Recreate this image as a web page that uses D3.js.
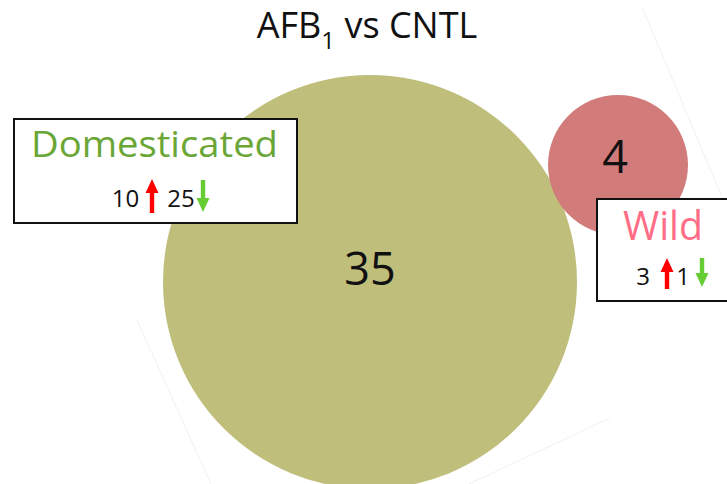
<!DOCTYPE html>
<html>
<head>
<script src="https://cdnjs.cloudflare.com/ajax/libs/d3/7.8.5/d3.min.js"></script>
<meta charset="utf-8">
<title>AFB1 vs CNTL</title>
</head>
<style>
body { margin: 0; background: #fff; }
text { font-family: "Open Sans", "Liberation Sans", sans-serif; }
</style>
<body>
<script>

var groups = ["Domesticated", "Wild"];
var counts = [35, 4];
var upCounts = [10, 3];
var downCounts = [25, 1];

var width = 727, height = 484;

// layout for each group: circle centre, label box, row of arrows
var layout = [
  { cx: 370, cy: 282, color: "#bfbe7b", numSize: 45, numX: 370, numY: 285,
    box: { x: 14, y: 119, w: 283, h: 104 }, labelColor: "#6aa636", labelSize: 36, labelX: 31, labelLen: 247, labelY: 157,
    row: { y: 207, size: 24, num1: 125.5, up: [152, 179, 213], num2: 181, down: [203, 180, 212] } },
  { cx: 618, cy: 165, color: "#d27b7b", numSize: 45, numX: 615, numY: 173,
    box: { x: 597, y: 199, w: 140, h: 102 }, labelColor: "#ff6e86", labelSize: 40, labelX: 623, labelLen: 80, labelY: 240,
    row: { y: 285, size: 24, num1: 643, up: [667, 258, 289], num2: 683, down: [702, 258, 287] } }
];

var r = d3.scaleSqrt().domain([0, d3.max(counts)]).range([0, 207]);

var svg = d3.select("body").append("svg")
  .attr("width", width)
  .attr("height", height);

// faint edges of the tilted slide behind the diagram
var edges = [[642, 7, 727, 209], [610, 418, 469, 484], [137, 320, 211, 484]];
svg.selectAll("line.edge").data(edges).enter().append("line")
  .attr("class", "edge")
  .attr("x1", function(d) { return d[0]; })
  .attr("y1", function(d) { return d[1]; })
  .attr("x2", function(d) { return d[2]; })
  .attr("y2", function(d) { return d[3]; })
  .attr("stroke", "#f1f1f1")
  .attr("stroke-width", 1);

var title = svg.append("text")
  .attr("x", 367)
  .attr("y", 38)
  .attr("text-anchor", "middle")
  .attr("font-size", 36)
  .attr("fill", "#111");
title.append("tspan").text("AFB");
title.append("tspan").attr("font-size", 24).attr("dy", 11).text("1");
title.append("tspan").attr("dy", -11).text(" vs CNTL");

var data = groups.map(function(g, i) {
  return { name: g, n: counts[i], up: upCounts[i], down: downCounts[i], L: layout[i] };
});

svg.selectAll("circle.set").data(data).enter().append("circle")
  .attr("class", "set")
  .attr("cx", function(d) { return d.L.cx; })
  .attr("cy", function(d) { return d.L.cy; })
  .attr("r", function(d) { return r(d.n); })
  .attr("fill", function(d) { return d.L.color; });

svg.selectAll("text.count").data(data).enter().append("text")
  .attr("class", "count")
  .attr("x", function(d) { return d.L.numX; })
  .attr("y", function(d) { return d.L.numY; })
  .attr("text-anchor", "middle")
  .attr("font-size", function(d) { return d.L.numSize; })
  .attr("fill", "#111")
  .text(function(d) { return d.n; });

function arrow(g, x, y0, y1, color) {
  // y0 = tail, y1 = tip
  var dir = y1 > y0 ? 1 : -1, hw = 6.5, hh = 14, sw = 2.2;
  var yb = y1 - dir * hh;
  g.append("path")
    .attr("d", "M" + (x - sw) + "," + y0 + "L" + (x - sw) + "," + yb +
      "L" + (x - hw) + "," + yb + "L" + x + "," + y1 + "L" + (x + hw) + "," + yb +
      "L" + (x + sw) + "," + yb + "L" + (x + sw) + "," + y0 + "Z")
    .attr("fill", color);
}

data.forEach(function(d) {
  var L = d.L, g = svg.append("g");
  g.append("rect")
    .attr("x", L.box.x).attr("y", L.box.y)
    .attr("width", L.box.w).attr("height", L.box.h)
    .attr("fill", "#fff")
    .attr("stroke", "#111")
    .attr("stroke-width", 2);
  g.append("text")
    .attr("x", L.labelX)
    .attr("y", L.labelY)
    .attr("font-size", L.labelSize)
    .attr("textLength", L.labelLen)
    .attr("lengthAdjust", "spacingAndGlyphs")
    .attr("fill", L.labelColor)
    .text(d.name);
  g.append("text")
    .attr("x", L.row.num1).attr("y", L.row.y)
    .attr("text-anchor", "middle")
    .attr("font-size", L.row.size)
    .attr("fill", "#111")
    .text(d.up);
  arrow(g, L.row.up[0], L.row.up[2], L.row.up[1], "#ff0000");
  g.append("text")
    .attr("x", L.row.num2).attr("y", L.row.y)
    .attr("text-anchor", "middle")
    .attr("font-size", L.row.size)
    .attr("fill", "#111")
    .text(d.down);
  arrow(g, L.row.down[0], L.row.down[1], L.row.down[2], "#66cc33");
});

</script>
</body>
</html>
